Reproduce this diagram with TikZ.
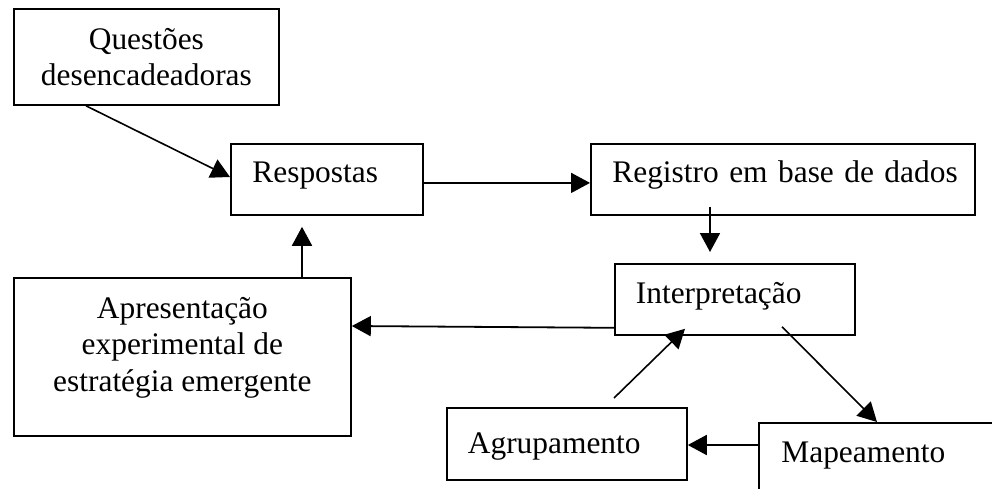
\documentclass[tikz,border=0pt]{standalone}
\usepackage{fontspec}
\setmainfont{Liberation Serif}
\usetikzlibrary{arrows.meta,calc}
\begin{document}
\begin{tikzpicture}[x=1pt,y=-1pt,
  every node/.style={font=\fontsize{31.4}{36.5}\selectfont},
  boxc/.style={draw=black,line width=1.8pt,rectangle,anchor=north west,inner sep=0pt,align=center},
  boxl/.style={draw=black,line width=1.8pt,rectangle,anchor=north west,inner ysep=0pt,inner xsep=21.5pt,align=left,text height=22pt},
  conn/.style={line width=1.8pt,-{Triangle[length=19pt,width=20pt]}},
  diag/.style={line width=1.6pt,-{Triangle[length=19pt,width=20pt]}}]
\useasboundingbox (0,0) rectangle (992,488);
\clip (0,0) rectangle (992,488);
\node[boxc,minimum width=265pt,minimum height=96pt,text depth=-2pt] (q) at (13,8) {Questões\\desencadeadoras};
\node[boxl,minimum width=192pt,minimum height=71pt,text width=149pt,text depth=15pt] (r) at (230,143) {\mbox{Respostas}};
\node[boxl,minimum width=384pt,minimum height=71pt,text width=341pt,text depth=15pt] (g) at (590,143) {\mbox{Registro em base de dados}};
\node[boxl,minimum width=240pt,minimum height=71pt,text width=198pt,text depth=13pt,inner xsep=20.5pt] (i) at (614,263) {\mbox{Interpretação}};
\node[boxc,minimum width=337pt,minimum height=158pt,text depth=25pt] (a) at (13,277) {Apresentação\\experimental de\\estratégia emergente};
\node[boxl,minimum width=240pt,minimum height=72pt,text width=198pt,text depth=2pt,inner xsep=20.5pt] (ag) at (446,407) {\mbox{Agrupamento}};
\node[boxl,minimum width=252pt,minimum height=78pt,text width=207pt,text depth=20pt,inner xsep=22.5pt] (m) at (758,422) {\mbox{Mapeamento}};
\draw[diag] ($(q.south west)+(73,0)$) -- ($(r.north west)+(0,34)$);
\draw[conn] ($(r.east)+(0,3.5)$) -- ($(g.west)+(0,3.5)$);
\draw[conn] ($(g.south west)+(120,-9)$) -- ($(i.north west)+(96,-11)$);
\draw[conn] ($(i.south west)+(0,-8)$) -- ($(a.north east)+(0,49)$);
\draw[conn] ($(a.north west)+(289,0)$) -- ($(r.south west)+(72,11)$);
\draw[diag] ($(ag.north west)+(168,-9)$) -- ($(i.south west)+(71,-7)$);
\draw[diag] ($(i.south west)+(168,-9)$) -- ($(m.north west)+(119,0)$);
\draw[conn] ($(m.north west)+(0,23)$) -- ($(ag.north east)+(0,38)$);
\end{tikzpicture}
\end{document}
